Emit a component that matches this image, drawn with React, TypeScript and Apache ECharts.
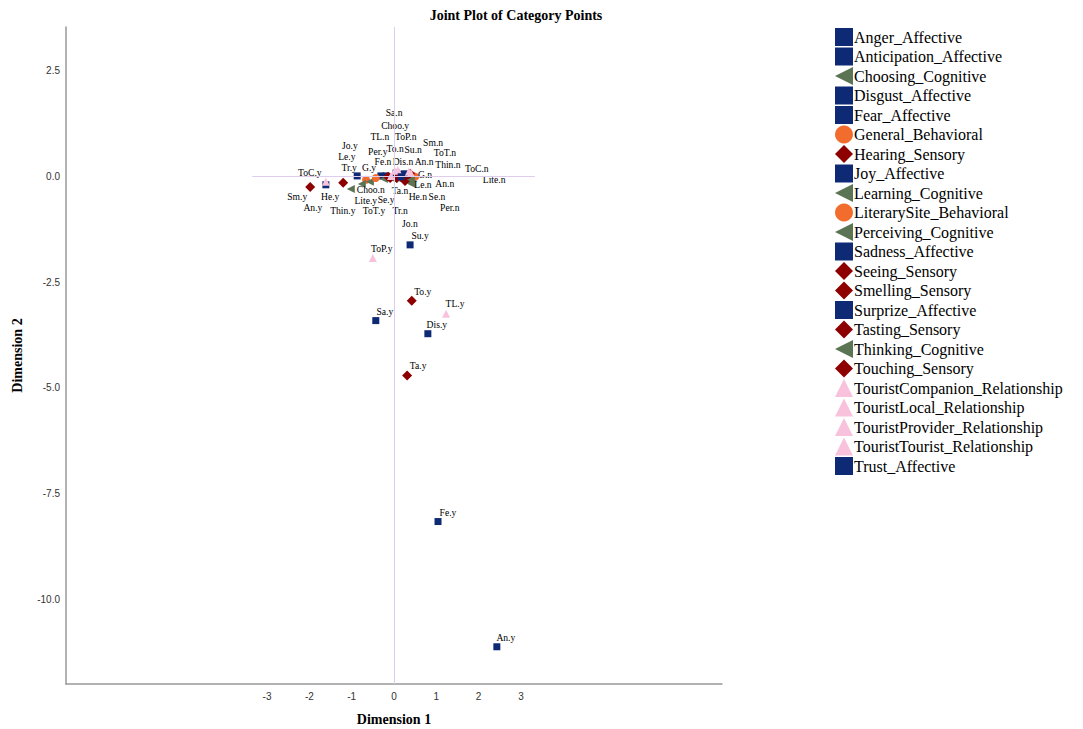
import React, { useEffect, useRef } from "react";
import * as echarts from "echarts";

// ---------- DATA ----------
const categories = [
  "Anger_Affective", "Anticipation_Affective", "Choosing_Cognitive", "Disgust_Affective",
  "Fear_Affective", "General_Behavioral", "Hearing_Sensory", "Joy_Affective",
  "Learning_Cognitive", "LiterarySite_Behavioral", "Perceiving_Cognitive", "Sadness_Affective",
  "Seeing_Sensory", "Smelling_Sensory", "Surprize_Affective", "Tasting_Sensory",
  "Thinking_Cognitive", "Touching_Sensory", "TouristCompanion_Relationship",
  "TouristLocal_Relationship", "TouristProvider_Relationship", "TouristTourist_Relationship",
  "Trust_Affective",
];
const abbrev = [
  "An", "An", "Choo", "Dis", "Fe", "G", "He", "Jo", "Le", "Lite", "Per", "Sa",
  "Se", "Sm", "Su", "Ta", "Thin", "To", "ToC", "TL", "ToP", "ToT", "Tr",
];
const groupOf = [
  "Affective", "Affective", "Cognitive", "Affective", "Affective", "Behavioral", "Sensory",
  "Affective", "Cognitive", "Behavioral", "Cognitive", "Affective", "Sensory", "Sensory",
  "Affective", "Sensory", "Cognitive", "Sensory", "Relationship", "Relationship",
  "Relationship", "Relationship", "Affective",
];
// ".y" category points [Dimension 1, Dimension 2]
const yesPoints: [number, number][] = [
  [2.43, -11.12], [-1.61, -0.2], [-0.02, -0.06], [0.8, -3.72], [1.04, -8.16],
  [-0.66, -0.08], [-1.2, -0.15], [-0.31, 0.01], [-0.57, -0.13], [-0.43, -0.04],
  [-0.24, -0.06], [-0.43, -3.41], [-0.14, -0.01], [-1.98, -0.25], [0.38, -1.62],
  [0.31, -4.71], [-0.76, -0.18], [0.42, -2.94], [-1.61, -0.13], [1.23, -3.25],
  [-0.5, -1.93], [-0.07, 0.01], [-0.87, 0.01],
];
// ".n" category points [Dimension 1, Dimension 2]
const noPoints: [number, number][] = [
  [0.31, 0.01], [0.35, -0.01], [-1.02, -0.3], [0.14, 0.04], [-0.19, 0.01],
  [0.45, 0.01], [0.28, -0.08], [0.21, -0.04], [0.33, -0.13], [0.5, -0.01],
  [0.42, -0.18], [0.05, 0.08], [0.26, -0.11], [0.38, 0.06], [0.24, 0.06],
  [0.07, -0.04], [0.4, -0.08], [-0.09, -0.04], [0.35, 0.11], [0.02, 0.13],
  [0.09, 0.15], [0.4, 0.08], [0.17, -0.01],
];
const xTicks = [-3, -2, -1, 0, 1, 2, 3];
const yTicks = [2.5, 0, -2.5, -5, -7.5, -10];

// ---------- STYLE ----------
const yesLabelOffset: [number, number][] = [
  [9, -9], [-13, 23], [2, -53], [9, -9], [10, -9],
  [3, -12], [-13, 14], [-31, -30], [-23, -25], [-10, 22],
  [-6, -27], [9, -9], [-2, 23], [-13, 10], [10, -9],
  [11, -10], [-19, 27], [11, -9], [-16, -9], [9, -10],
  [9, -9], [-17, 35], [-8, -8],
];
const noLabelOffset: [number, number][] = [
  [17, -14], [36, 7], [20, 0], [3, -13], [-3, -14],
  [12, -1], [12, 17], [7, 45], [15, 3], [79, 3],
  [38, 24], [-2, -60], [32, 16], [23, -31], [9, -24],
  [3, 12], [37, -15], [5, -30], [68, -3], [-15, -34],
  [8, -33], [34, -20], [-1, 34],
];
const LEFT_TRI = "path://M10,0 L10,10 L0,5 Z";
const groupStyle: Record<string, { symbol: string; color: string; size: number }> = {
  Affective: { symbol: "rect", color: "#0f2a74", size: 7 },
  Cognitive: { symbol: LEFT_TRI, color: "#5a7454", size: 8 },
  Behavioral: { symbol: "circle", color: "#f26c2e", size: 8 },
  Sensory: { symbol: "diamond", color: "#8e0000", size: 10 },
  Relationship: { symbol: "triangle", color: "#f9c2dc", size: 8 },
};

const SERIF = '"Liberation Serif", "Times New Roman", serif';
const SANS = '"Liberation Sans", Arial, sans-serif';

export default function App() {
  const ref = useRef<HTMLDivElement>(null);
  useEffect(() => {
    document.body.style.margin = "0";
    if (!ref.current) return;
    const chart = echarts.init(ref.current, undefined, { renderer: "svg" });

    const series: any[] = categories.map((name, i) => {
      const st = groupStyle[groupOf[i]];
      return {
        type: "scatter",
        name,
        symbol: st.symbol,
        symbolSize: st.size,
        itemStyle: { color: st.color, opacity: 1 },
        label: {
          show: true,
          position: "inside",
          formatter: (p: any) => p.name,
          fontFamily: SERIF,
          fontSize: 9.6,
          color: "#000",
        },
        labelLayout: (p: any) => {
          const off = p.dataIndex === 0 ? yesLabelOffset[i] : noLabelOffset[i];
          return { dx: off[0], dy: off[1], hideOverlap: false };
        },
        data: [
          { value: yesPoints[i], name: abbrev[i] + ".y" },
          { value: noPoints[i], name: abbrev[i] + ".n" },
        ],
        z: 3,
      };
    });

    series.push({
      type: "scatter",
      name: "__ref",
      data: [],
      silent: true,
      z: 1,
      markLine: {
        silent: true,
        symbol: "none",
        animation: false,
        label: { show: false },
        lineStyle: { color: "#dfcdee", width: 1, type: "solid" },
        data: [
          { xAxis: 0 },
          [{ coord: [-3.35, 0] }, { coord: [3.33, 0] }],
        ],
      },
    });

    chart.setOption({
      animation: false,
      backgroundColor: "#fff",
      grid: { left: 66, top: 27, width: 656, height: 657, containLabel: false, outerBoundsMode: "none" },
      graphic: [
        {
          type: "text",
          x: 516,
          y: 15,
          style: {
            text: "Joint Plot of Category Points",
            font: `bold 14px ${SERIF}`,
            fill: "#000",
            textAlign: "center",
            textVerticalAlign: "middle",
          },
        },
      ],
      legend: {
        orient: "vertical",
        left: 830,
        top: 23,
        itemWidth: 18,
        itemHeight: 18,
        itemGap: 1.5,
        data: categories.map((c, i) => ({ name: c, icon: groupStyle[groupOf[i]].symbol })),
        textStyle: { fontFamily: SERIF, fontSize: 16, color: "#000", padding: [0, 0, 0, -4] },
        selectedMode: false,
      },
      xAxis: {
        type: "value",
        min: -7.75,
        max: 7.75,
        name: "Dimension 1",
        nameLocation: "middle",
        nameGap: 28,
        nameTextStyle: { fontFamily: SERIF, fontWeight: "bold", fontSize: 14, color: "#000" },
        axisLine: { show: true, onZero: false, lineStyle: { color: "#999", width: 1.5 } },
        axisTick: { show: false },
        splitLine: { show: false },
        axisLabel: {
          customValues: xTicks,
          margin: 7,
          fontFamily: SANS,
          fontSize: 10,
          color: "#333",
          formatter: (v: number) => String(v),
        },
      },
      yAxis: {
        type: "value",
        min: -12,
        max: 3.53,
        name: "Dimension 2",
        nameLocation: "middle",
        nameGap: 42,
        nameRotate: 90,
        nameTextStyle: { fontFamily: SERIF, fontWeight: "bold", fontSize: 14, color: "#000" },
        axisLine: { show: true, onZero: false, lineStyle: { color: "#999", width: 1.5 } },
        axisTick: { show: false },
        splitLine: { show: false },
        axisLabel: {
          customValues: yTicks,
          margin: 6,
          fontFamily: SANS,
          fontSize: 10,
          color: "#333",
          formatter: (v: number) => v.toFixed(1),
        },
      },
      series,
    });
    return () => chart.dispose();
  }, []);
  return <div ref={ref} style={{ width: 1083, height: 729 }} />;
}
